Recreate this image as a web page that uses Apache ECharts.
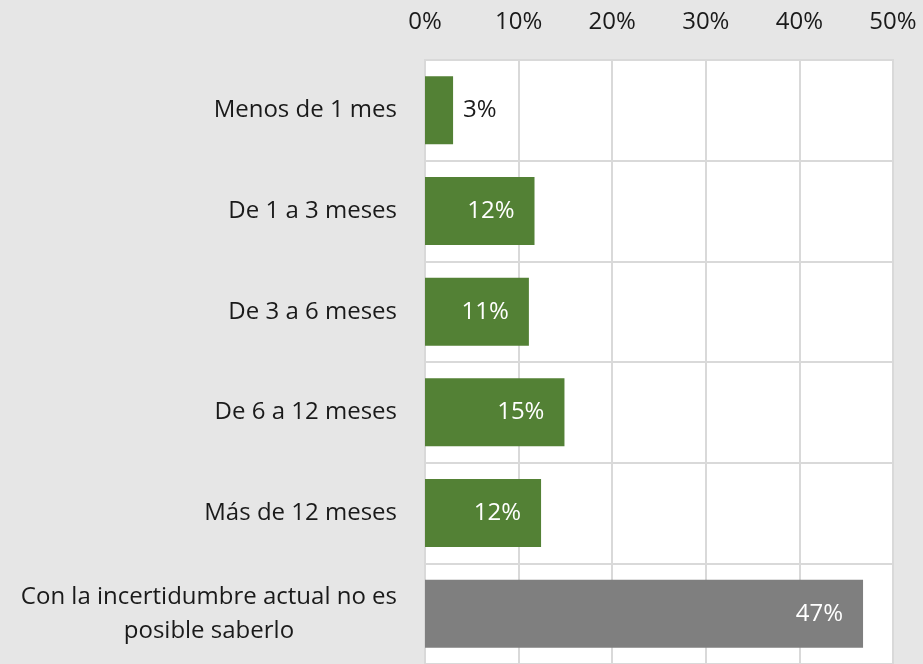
<!DOCTYPE html>
<html>
<head>
<meta charset="utf-8">
<script src="https://cdn.jsdelivr.net/npm/echarts@6/dist/echarts.min.js"></script>
<style>
    html, body { margin: 0; padding: 0; background: #e6e6e6; }
    #chart { width: 923px; height: 664px; }
</style>
</head>
<body>
<div id="chart"></div>
<script>
// categorias (de arriba a abajo)
var categorias = [
    "Menos de 1 mes",
    "De 1 a 3 meses",
    "De 3 a 6 meses",
    "De 6 a 12 meses",
    "Más de 12 meses",
    "Con la incertidumbre actual no es\nposible saberlo"
];
// porcentajes
var valores = [3.0, 11.7, 11.1, 14.9, 12.4, 46.8];
var colores = ["#538135", "#538135", "#538135", "#538135", "#538135", "#7f7f7f"];
var ticksX = [0, 10, 20, 30, 40, 50];

var fuente = "Open Sans";

var datos = valores.map(function (v, i) {
    var item = { value: v, itemStyle: { color: colores[i] } };
    if (v < 5) { // etiqueta fuera de la barra
        item.label = { position: "right", distance: 10, color: "#1a1a1a" };
    }
    return item;
});

var myChart = echarts.init(document.getElementById("chart"), null, { renderer: "canvas" });

myChart.setOption({
    backgroundColor: "#e6e6e6",
    animation: false,
    grid: {
        left: 425,
        top: 60,
        width: 468,
        height: 612,
        show: true,
        backgroundColor: "#ffffff",
        borderColor: "#d9d9d9",
        borderWidth: 2
    },
    xAxis: {
        type: "value",
        position: "top",
        min: ticksX[0],
        max: ticksX[ticksX.length - 1],
        interval: 10,
        axisLine: { show: false },
        axisTick: { show: false },
        axisLabel: {
            margin: 26,
            fontFamily: fuente,
            fontSize: 24,
            color: "#1a1a1a",
            formatter: "{value}%"
        },
        splitLine: { lineStyle: { color: "#d9d9d9", width: 2 } }
    },
    yAxis: {
        type: "category",
        inverse: true,
        data: categorias,
        axisLine: { show: false },
        axisTick: { show: false },
        axisLabel: {
            margin: 28,
            fontFamily: fuente,
            fontSize: 24,
            lineHeight: 34,
            color: "#1a1a1a",
            align: "right",
            // lineas centradas entre si (etiqueta de dos lineas)
            formatter: function (val) {
                return val.split("\n").map(function (l) { return "{c|" + l + "}"; }).join("\n");
            },
            rich: {
                c: {
                    align: "center",
                    fontFamily: fuente,
                    fontSize: 24,
                    lineHeight: 34,
                    color: "#1a1a1a"
                }
            }
        },
        splitLine: { show: true, lineStyle: { color: "#d9d9d9", width: 2 } }
    },
    series: [{
        type: "bar",
        barWidth: 68,
        data: datos,
        label: {
            show: true,
            position: "insideRight",
            distance: 20,
            fontFamily: fuente,
            fontSize: 24,
            color: "#ffffff",
            formatter: function (p) { return Math.round(p.value) + "%"; }
        }
    }]
});
</script>
</body>
</html>
